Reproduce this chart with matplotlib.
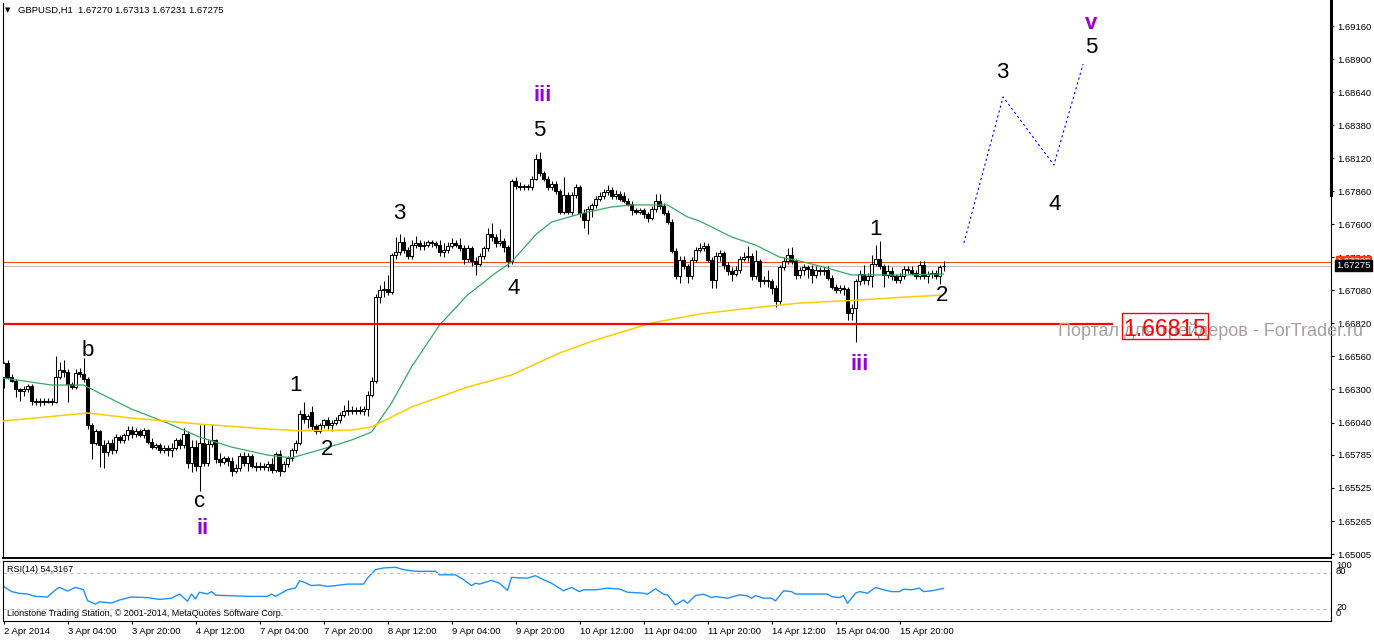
import numpy as np
import matplotlib
matplotlib.use("Agg")
import matplotlib.pyplot as plt
import matplotlib.transforms as mtrans
from matplotlib.lines import Line2D
from matplotlib.patches import Rectangle

plt.rcParams['font.family'] = ['Liberation Sans', 'DejaVu Sans']

# GBPUSD H1 bars, 2 Apr 2014 12:00 .. 16 Apr 2014 07:00
opens = [1.6640, 1.6651, 1.6640, 1.6637, 1.6630, 1.6629, 1.6630, 1.6633, 1.6621, 1.6620,
         1.6621, 1.6620, 1.6621, 1.6620, 1.6640, 1.6645, 1.6644, 1.6634, 1.6632, 1.6644,
         1.6642, 1.6638, 1.6602, 1.6588, 1.6597, 1.6586, 1.6581, 1.6588, 1.6582, 1.6593,
         1.6590, 1.6594, 1.6598, 1.6595, 1.6597, 1.6594, 1.6598, 1.6589, 1.6585, 1.6586,
         1.6582, 1.6584, 1.6582, 1.6584, 1.6590, 1.6586, 1.6595, 1.6572, 1.6585, 1.6570,
         1.6588, 1.6572, 1.6587, 1.6590, 1.6575, 1.6573, 1.6576, 1.6574, 1.6566, 1.6568,
         1.6578, 1.6572, 1.6578, 1.6570, 1.6569, 1.6570, 1.6569, 1.6571, 1.6567, 1.6579,
         1.6566, 1.6571, 1.6576, 1.6582, 1.6588, 1.6611, 1.6607, 1.6612, 1.6601, 1.6597,
         1.6602, 1.6606, 1.6602, 1.6604, 1.6606, 1.6610, 1.6613, 1.6614, 1.6613, 1.6614,
         1.6613, 1.6615, 1.6626, 1.6637, 1.6703, 1.6708, 1.6709, 1.6707, 1.6736, 1.6738,
         1.6746, 1.6740, 1.6735, 1.6744, 1.6745, 1.6743, 1.6744, 1.6746, 1.6745, 1.6744,
         1.6738, 1.6740, 1.6743, 1.6745, 1.6744, 1.6741, 1.6733, 1.6741, 1.6731, 1.6729,
         1.6735, 1.6741, 1.6752, 1.6750, 1.6745, 1.6747, 1.6742, 1.6731, 1.6794, 1.6790,
         1.6789, 1.6790, 1.6789, 1.6796, 1.6811, 1.6800, 1.6796, 1.6789, 1.6792, 1.6786,
         1.6770, 1.6783, 1.6770, 1.6783, 1.6789, 1.6769, 1.6763, 1.6772, 1.6775, 1.6780,
         1.6782, 1.6785, 1.6787, 1.6782, 1.6784, 1.6782, 1.6778, 1.6776, 1.6771, 1.6770,
         1.6771, 1.6768, 1.6765, 1.6772, 1.6778, 1.6774, 1.6769, 1.6762, 1.6739, 1.6719,
         1.6732, 1.6727, 1.6719, 1.6732, 1.6740, 1.6741, 1.6743, 1.6732, 1.6716, 1.6735,
         1.6737, 1.6728, 1.6723, 1.6721, 1.6724, 1.6733, 1.6734, 1.6735, 1.6719, 1.6731,
         1.6715, 1.6716, 1.6715, 1.6710, 1.6700, 1.6726, 1.6731, 1.6736, 1.6731, 1.6720,
         1.6724, 1.6726, 1.6725, 1.6720, 1.6724, 1.6723, 1.6724, 1.6718, 1.6711, 1.6708,
         1.6710, 1.6709, 1.6690, 1.6694, 1.6715, 1.6721, 1.6716, 1.6719, 1.6729, 1.6733,
         1.6727, 1.6720, 1.6723, 1.6719, 1.6716, 1.6719, 1.6725, 1.6724, 1.6722, 1.6719,
         1.6728, 1.6719, 1.6721, 1.6722, 1.6719, 1.67270]
highs = [1.6652, 1.6653, 1.6642, 1.6638, 1.6631, 1.6633, 1.6634, 1.6634, 1.6623, 1.6623,
         1.6623, 1.6623, 1.6623, 1.6656, 1.6652, 1.6653, 1.6646, 1.6636, 1.6646, 1.6647,
         1.6655, 1.6640, 1.6604, 1.6599, 1.6598, 1.6590, 1.6590, 1.6591, 1.6595, 1.6594,
         1.6596, 1.6601, 1.6601, 1.6600, 1.6599, 1.6600, 1.6599, 1.6592, 1.6588, 1.6588,
         1.6586, 1.6586, 1.6588, 1.6592, 1.6592, 1.6600, 1.6597, 1.6590, 1.6590, 1.6602,
         1.6603, 1.6590, 1.6603, 1.6591, 1.6580, 1.6578, 1.6578, 1.6577, 1.6571, 1.6580,
         1.6581, 1.6580, 1.6579, 1.6573, 1.6573, 1.6572, 1.6574, 1.6576, 1.6581, 1.6582,
         1.6574, 1.6578, 1.6584, 1.6590, 1.6614, 1.6620, 1.6611, 1.6617, 1.6603, 1.6604,
         1.6607, 1.6608, 1.6606, 1.6608, 1.6612, 1.6618, 1.6622, 1.6617, 1.6616, 1.6617,
         1.6617, 1.6629, 1.6640, 1.6705, 1.6712, 1.6715, 1.6720, 1.6737, 1.6750, 1.6752,
         1.6750, 1.6742, 1.6748, 1.6751, 1.6748, 1.6747, 1.6748, 1.6748, 1.6747, 1.6748,
         1.6745, 1.6746, 1.6749, 1.6748, 1.6749, 1.6744, 1.6744, 1.6743, 1.6734, 1.6737,
         1.6743, 1.6757, 1.6761, 1.6752, 1.6756, 1.6749, 1.6744, 1.6796, 1.6797, 1.6793,
         1.6792, 1.6792, 1.6798, 1.6815, 1.6817, 1.6802, 1.6798, 1.6794, 1.6794, 1.6788,
         1.6797, 1.6785, 1.6785, 1.6792, 1.6791, 1.6772, 1.6774, 1.6777, 1.6782, 1.6785,
         1.6788, 1.6791, 1.6789, 1.6787, 1.6786, 1.6785, 1.6781, 1.6778, 1.6773, 1.6773,
         1.6773, 1.6770, 1.6774, 1.6784, 1.6784, 1.6777, 1.6771, 1.6764, 1.6741, 1.6735,
         1.6735, 1.6729, 1.6734, 1.6742, 1.6745, 1.6746, 1.6745, 1.6734, 1.6738, 1.6740,
         1.6739, 1.6730, 1.6726, 1.6727, 1.6735, 1.6738, 1.6743, 1.6737, 1.6740, 1.6733,
         1.6719, 1.6724, 1.6717, 1.6712, 1.6728, 1.6734, 1.6741, 1.6742, 1.6733, 1.6726,
         1.6729, 1.6728, 1.6728, 1.6727, 1.6726, 1.6726, 1.6727, 1.6720, 1.6713, 1.6712,
         1.6712, 1.6711, 1.6697, 1.6717, 1.6724, 1.6728, 1.6722, 1.6736, 1.6744, 1.6747,
         1.6729, 1.6728, 1.6726, 1.6721, 1.6722, 1.6727, 1.6727, 1.6727, 1.6724, 1.6731,
         1.6731, 1.6723, 1.6724, 1.6724, 1.6728, 1.67313]
lows = [1.6631, 1.6638, 1.6636, 1.6624, 1.6621, 1.6625, 1.6628, 1.6618, 1.6618, 1.6617,
        1.6618, 1.6619, 1.6618, 1.6619, 1.6638, 1.6640, 1.6620, 1.6630, 1.6630, 1.6640,
        1.6636, 1.6599, 1.6575, 1.6586, 1.6569, 1.6568, 1.6578, 1.6579, 1.6580, 1.6588,
        1.6588, 1.6590, 1.6592, 1.6593, 1.6593, 1.6592, 1.6587, 1.6583, 1.6583, 1.6580,
        1.6580, 1.6578, 1.6577, 1.6582, 1.6583, 1.6584, 1.6568, 1.6565, 1.6566, 1.6550,
        1.6570, 1.6570, 1.6585, 1.6572, 1.6570, 1.6571, 1.6570, 1.6562, 1.6564, 1.6566,
        1.6570, 1.6566, 1.6568, 1.6566, 1.6567, 1.6567, 1.6566, 1.6564, 1.6565, 1.6562,
        1.6565, 1.6569, 1.6574, 1.6580, 1.6586, 1.6604, 1.6600, 1.6598, 1.6595, 1.6596,
        1.6600, 1.6599, 1.6597, 1.6602, 1.6604, 1.6608, 1.6610, 1.6611, 1.6611, 1.6611,
        1.6610, 1.6609, 1.6624, 1.6635, 1.6698, 1.6703, 1.6704, 1.6705, 1.6733, 1.6736,
        1.6737, 1.6733, 1.6733, 1.6741, 1.6740, 1.6740, 1.6742, 1.6742, 1.6741, 1.6735,
        1.6734, 1.6737, 1.6741, 1.6742, 1.6739, 1.6729, 1.6730, 1.6727, 1.6720, 1.6727,
        1.6733, 1.6739, 1.6747, 1.6742, 1.6743, 1.6738, 1.6726, 1.6729, 1.6788, 1.6787,
        1.6787, 1.6787, 1.6787, 1.6795, 1.6798, 1.6794, 1.6787, 1.6787, 1.6784, 1.6768,
        1.6768, 1.6768, 1.6767, 1.6781, 1.6766, 1.6757, 1.6752, 1.6766, 1.6773, 1.6778,
        1.6780, 1.6783, 1.6780, 1.6780, 1.6778, 1.6777, 1.6774, 1.6767, 1.6768, 1.6768,
        1.6765, 1.6762, 1.6763, 1.6770, 1.6772, 1.6767, 1.6760, 1.6737, 1.6717, 1.6714,
        1.6725, 1.6714, 1.6717, 1.6730, 1.6738, 1.6739, 1.6730, 1.6710, 1.6710, 1.6731,
        1.6725, 1.6720, 1.6715, 1.6719, 1.6722, 1.6731, 1.6731, 1.6716, 1.6717, 1.6711,
        1.6713, 1.6711, 1.6705, 1.6695, 1.6697, 1.6724, 1.6729, 1.6729, 1.6717, 1.6718,
        1.6720, 1.6718, 1.6714, 1.6718, 1.6720, 1.6720, 1.6716, 1.6709, 1.6706, 1.6706,
        1.6704, 1.6685, 1.6685, 1.6667, 1.6712, 1.6713, 1.6712, 1.6711, 1.6727, 1.6725,
        1.6711, 1.6718, 1.6716, 1.6714, 1.6714, 1.6717, 1.6722, 1.6720, 1.6717, 1.6717,
        1.6717, 1.6714, 1.6718, 1.6717, 1.6713, 1.67231]
closes = [1.6651, 1.6640, 1.6637, 1.6630, 1.6629, 1.6630, 1.6633, 1.6621, 1.6620, 1.6621,
          1.6620, 1.6621, 1.6620, 1.6640, 1.6645, 1.6644, 1.6634, 1.6632, 1.6643, 1.6642,
          1.6638, 1.6602, 1.6588, 1.6597, 1.6586, 1.6581, 1.6588, 1.6582, 1.6593, 1.6590,
          1.6594, 1.6598, 1.6595, 1.6597, 1.6594, 1.6598, 1.6589, 1.6585, 1.6586, 1.6582,
          1.6584, 1.6582, 1.6584, 1.6590, 1.6586, 1.6595, 1.6572, 1.6585, 1.6570, 1.6588,
          1.6572, 1.6587, 1.6590, 1.6575, 1.6573, 1.6576, 1.6574, 1.6566, 1.6568, 1.6578,
          1.6572, 1.6578, 1.6570, 1.6569, 1.6570, 1.6569, 1.6571, 1.6567, 1.6579, 1.6566,
          1.6571, 1.6576, 1.6582, 1.6588, 1.6611, 1.6607, 1.6609, 1.6601, 1.6597, 1.6602,
          1.6606, 1.6602, 1.6604, 1.6606, 1.6610, 1.6613, 1.6614, 1.6613, 1.6614, 1.6613,
          1.6615, 1.6626, 1.6637, 1.6703, 1.6708, 1.6709, 1.6707, 1.6736, 1.6738, 1.6746,
          1.6740, 1.6735, 1.6744, 1.6745, 1.6743, 1.6744, 1.6746, 1.6745, 1.6744, 1.6738,
          1.6740, 1.6743, 1.6745, 1.6744, 1.6741, 1.6733, 1.6741, 1.6731, 1.6729, 1.6735,
          1.6741, 1.6752, 1.6750, 1.6745, 1.6747, 1.6742, 1.6731, 1.6794, 1.6790, 1.6789,
          1.6790, 1.6789, 1.6796, 1.6811, 1.6800, 1.6796, 1.6789, 1.6792, 1.6786, 1.6770,
          1.6783, 1.6770, 1.6783, 1.6789, 1.6769, 1.6763, 1.6772, 1.6775, 1.6780, 1.6782,
          1.6785, 1.6787, 1.6782, 1.6784, 1.6780, 1.6778, 1.6776, 1.6771, 1.6770, 1.6771,
          1.6768, 1.6765, 1.6772, 1.6778, 1.6774, 1.6769, 1.6762, 1.6739, 1.6719, 1.6732,
          1.6727, 1.6719, 1.6732, 1.6740, 1.6741, 1.6743, 1.6732, 1.6716, 1.6735, 1.6737,
          1.6728, 1.6723, 1.6721, 1.6724, 1.6733, 1.6734, 1.6735, 1.6719, 1.6731, 1.6715,
          1.6716, 1.6715, 1.6710, 1.6700, 1.6726, 1.6731, 1.6736, 1.6731, 1.6720, 1.6724,
          1.6726, 1.6725, 1.6720, 1.6724, 1.6723, 1.6724, 1.6718, 1.6711, 1.6708, 1.6710,
          1.6709, 1.6690, 1.6694, 1.6715, 1.6721, 1.6716, 1.6719, 1.6729, 1.6733, 1.6727,
          1.6720, 1.6723, 1.6719, 1.6716, 1.6719, 1.6725, 1.6724, 1.6722, 1.6719, 1.6728,
          1.6719, 1.6721, 1.6722, 1.6719, 1.6726, 1.67275]

# moving averages read at some bars (bar number, price)
ma_fast_bar = [0, 12, 20, 24, 32, 41, 49, 57, 66, 72, 79, 87, 92, 97, 102, 109, 116, 123,
               127, 133, 137, 145, 152, 157, 166, 171, 174, 182, 188, 194, 199, 205, 212,
               217, 226, 235]
ma_fast = [1.66390, 1.66335, 1.66335, 1.66272, 1.66146, 1.66036, 1.65926, 1.65847, 1.65784,
           1.65762, 1.65824, 1.65902, 1.65965, 1.66193, 1.66477, 1.66807, 1.67043, 1.67216,
           1.67303, 1.67516, 1.67618, 1.67689, 1.67736, 1.67752, 1.67752, 1.67657, 1.67626,
           1.67500, 1.67437, 1.67342, 1.67311, 1.67264, 1.67201, 1.67201, 1.67201, 1.67209]
ma_slow_bar = [0, 21, 32, 49, 66, 74, 87, 92, 102, 116, 127, 139, 148, 162, 174, 187, 199,
               214, 226, 235]
ma_slow = [1.66052, 1.66115, 1.66075, 1.66028, 1.65989, 1.65975, 1.65981, 1.66005, 1.66162,
           1.66319, 1.66414, 1.66587, 1.66689, 1.66823, 1.66894, 1.66941, 1.66980, 1.67004,
           1.67028, 1.67043]

# RSI(14)
rsi_bar = [0, 2, 4, 6, 8, 11, 13, 14, 16, 18, 20, 21, 23, 24, 27, 29, 32, 36, 39, 42, 44,
           46, 47, 48, 49, 51, 52, 53, 57, 62, 66, 67, 68, 71, 73, 74, 75, 77, 79, 81, 83,
           86, 90, 91, 93, 95, 98, 100, 103, 108, 109, 113, 115, 117, 118, 119, 122, 124,
           126, 127, 130, 131, 133, 135, 137, 140, 142, 144, 145, 148, 151, 154, 156, 160,
           161, 163, 165, 166, 168, 170, 171, 173, 175, 177, 178, 181, 184, 186, 187, 188,
           190, 192, 193, 195, 197, 198, 202, 206, 207, 209, 210, 211, 213, 214, 216, 218,
           220, 222, 224, 225, 227, 229, 230, 232, 235]
rsi_val = [57.6, 49, 46, 45, 41, 40, 52, 56, 50, 56, 52, 34, 28, 32, 30, 35, 40, 39, 36, 38,
           45, 33, 45, 37, 48, 45, 49, 43, 42, 41, 41, 45, 41, 52, 55, 67, 65, 59, 60, 57.6,
           59, 61.5, 61.5, 71.6, 85.6, 88.4, 89.5, 85.6, 82.8, 82.8, 77, 77, 69, 59, 63, 61.5,
           67.7, 63, 51, 72.7, 71.6, 71.6, 75.5, 68.8, 63, 50.3, 56, 49, 52, 52, 54.8, 53.2,
           48, 46.4, 44.7, 53.7, 44.7, 43.5, 27, 35, 29.5, 42.4, 44.7, 39, 40.7, 38, 43.5,
           41.9, 38, 42.4, 38, 38, 33.5, 50.3, 49, 45, 45, 45, 40.7, 39, 42.4, 29.5, 46.4,
           49, 46.4, 55.9, 52, 49, 49, 53, 52, 54.8, 49, 50.3, 54.3]

tick_bars = [0, 16, 32, 48, 64, 80, 96, 112, 128, 144, 160, 176, 192, 208, 224]
tick_labels = ['2 Apr 2014', '3 Apr 04:00', '3 Apr 20:00', '4 Apr 12:00', '7 Apr 04:00',
               '7 Apr 20:00', '8 Apr 12:00', '9 Apr 04:00', '9 Apr 20:00', '10 Apr 12:00',
               '11 Apr 04:00', '11 Apr 20:00', '14 Apr 12:00', '15 Apr 04:00', '15 Apr 20:00']
price_ticks = [1.69160, 1.68900, 1.68640, 1.68380, 1.68120, 1.67860, 1.67600, 1.67340,
               1.67080, 1.66820, 1.66560, 1.66300, 1.66040, 1.65785, 1.65525, 1.65265, 1.65005]

level = 1.66815
level_end = 277
bid = 1.67275
ask = 1.67305

# Elliott wave marks
wave_text = ['b', 'c', 'ii', '1', '2', '3', '4', '5', 'iii', '1', '2', 'iii', '3', '4', '5', 'v']
wave_bar = [21.1, 49.1, 49.9, 73.1, 80.9, 98.9, 127.6, 133.9, 134.9, 217.9, 234.6, 214.1,
            249.6, 262.9, 271.9, 271.9]
wave_price = [1.66603, 1.65422, 1.65210, 1.66335, 1.65831, 1.67681, 1.67098, 1.68334,
              1.68610, 1.67555, 1.67036, 1.66500, 1.68791, 1.67752, 1.68987, 1.69176]
wave_roman = [False, False, True, False, False, False, False, False, True, False, False,
              True, False, False, False, True]

proj_bar = [240.1, 249.9, 262.6, 269.9]
proj_price = [1.67453, 1.68602, 1.68066, 1.68861]

W, H = 1374, 640


def fx(px):
    return px / W


def fy(py):
    return 1 - py / H


fig = plt.figure(figsize=(W / 100, H / 100), dpi=100)
ax = fig.add_axes([fx(3), fy(558), fx(1331) - fx(3), fy(3) - fy(558)])
rx = fig.add_axes([fx(3), fy(621), fx(1331) - fx(3), fy(561) - fy(621)])

o = np.array(opens)
h = np.array(highs)
l = np.array(lows)
c = np.array(closes)
bars = np.arange(len(c))
up = c >= o

# candles
ax.vlines(bars, l, h, color='black', lw=0.75, zorder=2)
ax.bar(bars[up], (c - o)[up], bottom=o[up], width=0.55, color='white',
       edgecolor='black', lw=0.75, zorder=3)
ax.bar(bars[~up], (c - o)[~up], bottom=o[~up], width=0.55, color='black',
       edgecolor='black', lw=0.75, zorder=3)

ax.plot(ma_fast_bar, ma_fast, color='#37a866', lw=0.9, zorder=4)
ax.plot(ma_slow_bar, ma_slow, color='#ffcc00', lw=1.1, zorder=4)

ax.axhline(bid, color='#c0c0c0', lw=0.8, zorder=1)
ax.axhline(ask, color='#ff4500', lw=0.7, zorder=1)
ax.plot([-0.125, level_end], [level, level], color='red', lw=1.6, zorder=5)

ax.plot(proj_bar, proj_price, color='#0000ff', lw=0.8, ls=(0, (2, 2.5)), zorder=5)

for t, b, p, roman in zip(wave_text, wave_bar, wave_price, wave_roman):
    ax.text(b, p, t, ha='center', va='center', fontsize=16, zorder=6,
            color='#9400d3' if roman else 'black',
            fontweight='bold' if roman else 'normal')

ax.set_xlim(-0.125, 331.875)
ax.set_ylim(1.64974, 1.69341)
ax.set_xticks([])
ax.yaxis.tick_right()
ax.set_yticks(price_ticks)
ax.set_yticklabels([f'{v:.5f}' for v in price_ticks])
ax.tick_params(axis='y', length=2.2, width=0.8, pad=2.2, labelsize=6.8)
ax.spines['top'].set_visible(False)
for s in ['left', 'right', 'bottom']:
    ax.spines[s].set_linewidth(0.8)
ax.spines['bottom'].set_linewidth(1.4)

# bid / ask labels on the price scale
blend = mtrans.blended_transform_factory(ax.transAxes, ax.transData)
ax.text(1.004, ask, '1.67305', transform=blend, color='white', fontsize=6.8,
        va='center', ha='left', clip_on=False, zorder=8,
        bbox=dict(boxstyle='square,pad=0.08', fc='#ff3c14', ec='#ff3c14'))
ax.text(1.004, bid, '1.67275', transform=blend, color='white', fontsize=6.8,
        va='center', ha='left', clip_on=False, zorder=9,
        bbox=dict(boxstyle='square,pad=0.12', fc='black', ec='black'))

# RSI panel
rx.plot(rsi_bar, rsi_val, color='#1e90ff', lw=1.0)
rx.axhline(80, color='#c0c0c0', lw=0.8, ls=(0, (3, 3)))
rx.axhline(20, color='#c0c0c0', lw=0.8, ls=(0, (3, 3)))
rx.set_xlim(-0.125, 331.875)
rx.set_ylim(0, 100)
rx.set_yticks([])
rx.set_xticks(tick_bars)
rx.set_xticklabels(tick_labels, ha='left')
rx.tick_params(axis='x', length=2.2, width=0.8, pad=2, labelsize=6.8)
for s in rx.spines.values():
    s.set_linewidth(0.8)

# thick part of the price scale line
fig.add_artist(Line2D([fx(1331), fx(1331)], [fy(1), fy(195)], lw=2.2, color='black'))

fig.text(fx(5), fy(10), '\u25bc', fontsize=5, va='center', ha='left',
         family=['DejaVu Sans'])
fig.text(fx(18), fy(10), 'GBPUSD,H1  1.67270 1.67313 1.67231 1.67275',
         fontsize=6.8, va='center', ha='left')
fig.text(fx(7), fy(569), 'RSI(14) 54,3167', fontsize=6.5, va='center', ha='left')
fig.text(fx(7), fy(614), 'Lionstone Trading Station, \u00a9 2001-2014, MetaQuotes Software Corp.',
         fontsize=6.5, va='center', ha='left')

for txt, py in [('100', 565), ('80', 571), ('20', 607), ('0', 613)]:
    fig.text(fx(1336), fy(py), txt, fontsize=6.8, va='center', ha='left')

# watermark and level label
fig.text(fx(1058), fy(336), 'Портал для трейдеров - ForTrader.ru', fontsize=13,
         color='#a8a0a0', va='baseline', ha='left', zorder=4)
fig.add_artist(Rectangle((fx(1122), fy(339)), fx(1208) - fx(1122), fy(313) - fy(339),
                         fill=False, ec='red', lw=1.0, zorder=5))
fig.text(fx(1165), fy(335.5), '1.66815', fontsize=16.5, color='red', va='baseline',
         ha='center', zorder=6)

fig.savefig('out.png', dpi=100)
